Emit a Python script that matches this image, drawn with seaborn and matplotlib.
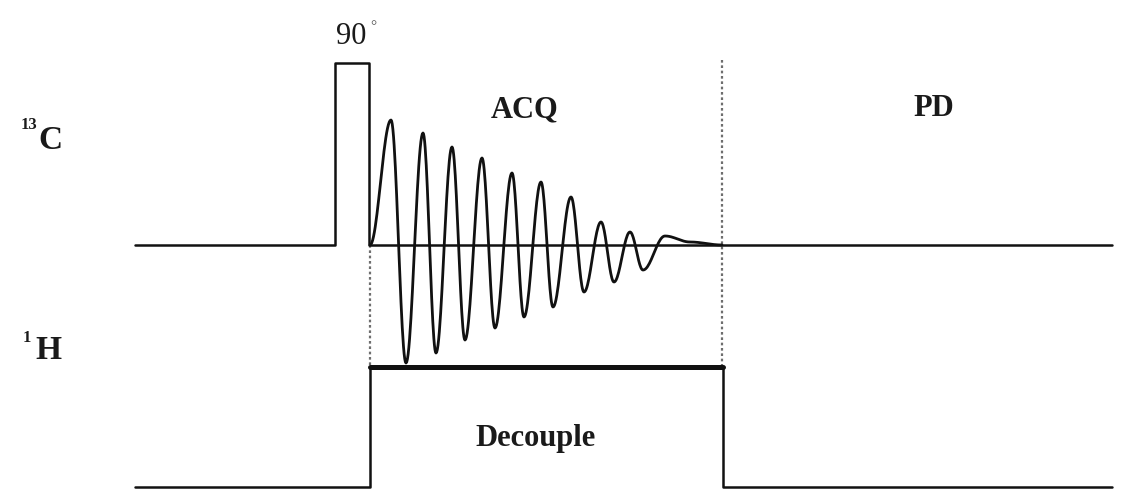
import numpy as np
import pandas as pd
import matplotlib
matplotlib.use("Agg")
import matplotlib.pyplot as plt
import seaborn as sns

sns.set_theme(style="white")
plt.rcParams['font.family'] = ['Liberation Serif', 'DejaVu Serif']

# ---- data (diagram units: x = time position, y = level on canvas, y grows downward) ----
c13_x = [135, 335, 335, 369, 369, 1112]
c13_y = [245, 245, 63, 63, 245, 245]

h1_x = [135, 370, 370, 723, 723, 1112]
h1_y = [487, 487, 367, 367, 487, 487]

decouple_bar_x = [370, 723]
decouple_bar_y = [367, 367]

# FID extrema (start, alternating peaks/troughs, end)
fid_x = [370, 391, 406, 423, 436, 452, 465, 482, 495, 512, 524, 541, 553,
         571, 584, 601, 614, 630, 643, 665, 690, 722]
fid_y = [245, 120, 363, 133, 353, 147, 340, 158, 328, 173, 317, 182, 307,
         197, 292, 222, 282, 232, 270, 236, 242, 245]

dotted_x = [370, 722]
dotted_top = [245, 60]
dotted_bottom = [367, 367]

labels = {"pulse": "90", "deg": "°", "acq": "ACQ", "pd": "PD", "dec": "Decouple"}

# ---- figure ----
fig = plt.figure(figsize=(11.26, 4.90), dpi=100)
ax = fig.add_axes([0, 0, 1, 1])

def trace(xs, ys, lw, color="#111111"):
    df = pd.DataFrame({"x": xs, "y": ys, "o": np.arange(len(xs))})
    sns.lineplot(data=df, x="x", y="y", sort=False, estimator=None,
                 color=color, lw=lw, ax=ax, legend=False)

# dotted acquisition window markers
for xv, t, b in zip(dotted_x, dotted_top, dotted_bottom):
    ax.vlines(xv, t, b, colors="#6e6e6e", linestyles=(0, (1.2, 1.2)), lw=1.6)

trace(c13_x, c13_y, 1.8)
trace(h1_x, h1_y, 1.8)
trace(decouple_bar_x, decouple_bar_y, 3.6)

# smooth FID through extrema (half-cosine segments)
fx, fy = [], []
for i in range(len(fid_x) - 1):
    t = np.linspace(0, 1, 25)
    s = (1 - np.cos(np.pi * t)) / 2
    fx.extend(fid_x[i] + (fid_x[i + 1] - fid_x[i]) * t)
    fy.extend(fid_y[i] + (fid_y[i + 1] - fid_y[i]) * s)
trace(fx, fy, 2.0)

tc = "#1a1a1a"
ax.text(351, 36, labels["pulse"], ha="center", va="center", fontsize=22, color=tc)
ax.text(373, 27, labels["deg"], ha="center", va="center", fontsize=11, color="#555555")
ax.text(525, 110, labels["acq"], ha="center", va="center", fontsize=22,
        fontweight="bold", color=tc)
ax.text(934, 108, labels["pd"], ha="center", va="center", fontsize=22,
        fontweight="bold", color=tc)
ax.text(536, 438, labels["dec"], ha="center", va="center", fontsize=22,
        fontweight="bold", color=tc)

# nucleus labels
ax.text(29, 125, "13", ha="center", va="center", fontsize=12, fontweight="bold", color=tc)
ax.text(50, 140, "C", ha="center", va="center", fontsize=24, fontweight="bold", color=tc)
ax.text(27, 338, "1", ha="center", va="center", fontsize=12, fontweight="bold", color=tc)
ax.text(48, 350, "H", ha="center", va="center", fontsize=24, fontweight="bold", color=tc)

ax.set_xlim(0, 1126)
ax.set_ylim(490, 0)
ax.axis("off")

fig.savefig("out.png", dpi=100, facecolor="white")
